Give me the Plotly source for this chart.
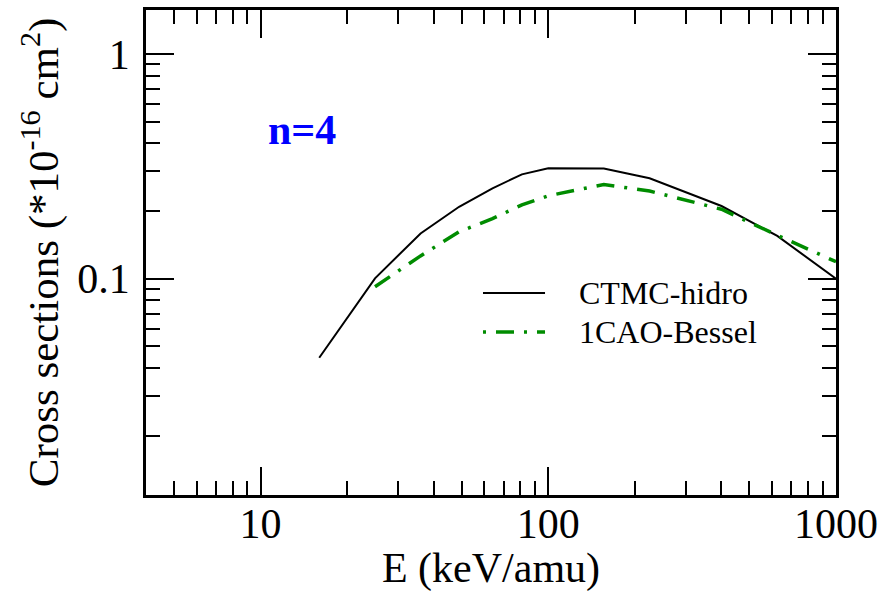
import math
import plotly.graph_objects as go

# Data
energy_ctmc = [16, 25, 36, 49, 64, 81, 100, 156, 225, 400, 625, 1000]
sigma_ctmc = [0.0445, 0.1004, 0.159, 0.209, 0.2525, 0.2914, 0.310, 0.309, 0.2797, 0.2106, 0.155, 0.100]

energy_cao = [25, 36, 49, 64, 81, 100, 156, 225, 400, 625, 1000]
sigma_cao = [0.0921, 0.1263, 0.1618, 0.185, 0.213, 0.234, 0.2625, 0.2456, 0.2037, 0.156, 0.119]

x_major = [10, 100, 1000]
x_major_labels = ["10", "100", "1000"]
x_minor = [5, 6, 7, 8, 9, 20, 30, 40, 50, 60, 70, 80, 90, 200, 300, 400, 500, 600, 700, 800, 900]
y_major = [0.1, 1]
y_major_labels = ["0.1", "1"]
y_minor = [0.02, 0.03, 0.04, 0.05, 0.06, 0.07, 0.08, 0.09, 0.2, 0.3, 0.4, 0.5, 0.6, 0.7, 0.8, 0.9]

FONT = "Liberation Serif, Times New Roman, serif"
GREEN = "#008c00"

fig = go.Figure()
fig.add_trace(go.Scatter(x=energy_ctmc, y=sigma_ctmc, mode="lines", name="CTMC-hidro",
                         line=dict(color="black", width=2), showlegend=False))
fig.add_trace(go.Scatter(x=energy_cao, y=sigma_cao, mode="lines", name="1CAO-Bessel",
                         line=dict(color=GREEN, width=3.5, dash="18px,10px,3px,10px"),
                         showlegend=False))

axis_common = dict(
    type="log", showline=True, linecolor="black", linewidth=2.5, mirror="ticks",
    ticks="inside", ticklen=28, tickwidth=2, tickcolor="black",
    showgrid=False, zeroline=False, automargin=False,
    tickfont=dict(family=FONT, size=42, color="black"),
)

fig.update_xaxes(**axis_common, range=[math.log10(4), 3],
                 tickvals=x_major, ticktext=x_major_labels, ticklabelstandoff=-10,
                 minor=dict(tickvals=x_minor, ticks="inside", ticklen=14, tickwidth=2,
                            tickcolor="black", showgrid=False),
                 title=dict(text="E (keV/amu)", font=dict(family=FONT, size=42, color="black"),
                            standoff=15))
fig.update_yaxes(**axis_common, range=[-1.9626, 0.1958],
                 tickvals=y_major, ticktext=y_major_labels, ticklabelstandoff=5,
                 minor=dict(tickvals=y_minor, ticks="inside", ticklen=14, tickwidth=2,
                            tickcolor="black", showgrid=False),
                 title=dict(text="Cross sections (*10<sup>-16</sup> cm<sup>2</sup>)",
                            font=dict(family=FONT, size=43, color="black"), standoff=6))

# Legend (manual)
leg_x0, leg_x1, leg_tx = 0.4884, 0.5783, 0.6246
leg_y = [0.4165, 0.3361]
fig.add_shape(type="line", xref="paper", yref="paper", x0=leg_x0, x1=leg_x1, y0=leg_y[0], y1=leg_y[0],
              line=dict(color="black", width=2))
fig.add_shape(type="line", xref="paper", yref="paper", x0=leg_x0, x1=leg_x1, y0=leg_y[1], y1=leg_y[1],
              line=dict(color=GREEN, width=3.5, dash="3px,10px,18px,10px"))
for txt, yy in zip(["CTMC-hidro", "1CAO-Bessel"], leg_y):
    fig.add_annotation(x=leg_tx, y=yy, xref="paper", yref="paper", text=txt, showarrow=False,
                       xanchor="left", yanchor="middle",
                       font=dict(family=FONT, size=32, color="black"))

fig.add_annotation(x=0.226, y=0.7526, xref="paper", yref="paper", text="<b>n=4</b>", showarrow=False,
                   xanchor="center", yanchor="middle",
                   font=dict(family=FONT, size=42, color="#0000ff"))

fig.update_layout(width=883, height=592, margin=dict(l=146, r=47, t=10, b=97),
                  plot_bgcolor="white", paper_bgcolor="white", showlegend=False)

fig.write_html("out.html")
